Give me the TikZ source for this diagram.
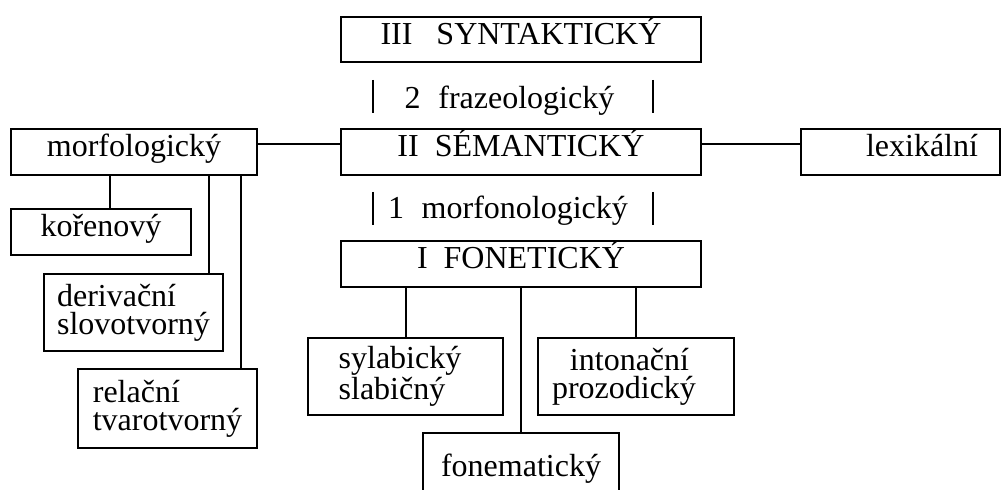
\documentclass[tikz,border=0pt]{standalone}
\usepackage{fontspec}
\setmainfont{Liberation Serif}
\begin{document}
\begin{tikzpicture}[x=0.5pt,y=-0.5pt,
  every node/.style={font=\fontsize{16pt}{14pt}\selectfont, inner sep=0pt},
  box/.style={draw, line width=1pt, rectangle},
  one/.style={box, text height=0.7em, text depth=0.2em},
  two/.style={box},
  link/.style={line width=1pt},
  bar/.style={line width=1.2pt},
  lbl/.style={text height=0.7em, text depth=0.2em}]
\clip (0,0) rectangle (1003,490);
% levels
\node[one, minimum width=180pt, minimum height=22.5pt] (syn) at (521,39.5) {III\hspace{0.75em}SYNTAKTICKÝ\hspace{8.5pt}};
\node[one, minimum width=180pt, minimum height=23pt] (sem) at (521,152) {II\hspace{0.5em}SÉMANTICKÝ\hspace{10pt}};
\node[one, minimum width=180pt, minimum height=23pt] (fon) at (521,264) {I\hspace{0.5em}FONETICKÝ\hspace{13.5pt}};
% in-between labels
\node[lbl] (fraz) at (509.5,104) {2\hspace{0.55em}frazeologický};
\node[lbl] (mfon) at (508,214) {1\hspace{0.55em}morfonologický};
\draw[bar] (373,80) -- (373,113);
\draw[bar] (653,80) -- (653,113);
\draw[bar] (373,192) -- (373,225);
\draw[bar] (653,192) -- (653,225);
% side boxes
\node[one, minimum width=123pt, minimum height=23pt] (morf) at (134,152) {morfologický\hspace{5pt}};
\node[one, minimum width=99.5pt, minimum height=23pt] (lex) at (900.5,152) {\hspace*{21.5pt}lexikální};
\node[one, minimum width=90pt, minimum height=23pt] (kor) at (101,232) {kořenový\hspace{3pt}};
\node[two, align=left, minimum width=89.5pt, minimum height=38.5pt] (der) at (133.5,312.5) {derivační\\slovotvorný};
\node[two, align=left, minimum width=89.5pt, minimum height=39.5pt] (rel) at (167.5,408.5) {relační\\tvarotvorný};
\node[two, align=left, minimum width=97.5pt, minimum height=38.5pt] (syl) at (405.5,376.5) {sylabický\hspace*{5.5pt}\\slabičný};
\node[two, align=center, minimum width=98pt, minimum height=38.5pt] (int) at (636,376.5) {intonační\hspace*{6.5pt}\\prozodický\hspace*{12pt}};
\node[one, minimum width=98pt, minimum height=39pt] (fonem) at (521,472) {fonematický};
% connector x positions
\coordinate (xk) at (110,0);
\coordinate (xd) at (209,0);
\coordinate (xr) at (241,0);
\coordinate (xs) at (406,0);
% connectors
\draw[link] ([yshift=4pt]morf.east) -- ([yshift=4pt]sem.west);
\draw[link] ([yshift=4pt]sem.east) -- ([yshift=4pt]lex.west);
\draw[link] (morf.south -| xk) -- (kor.north -| xk);
\draw[link] (morf.south -| xd) -- (der.north -| xd);
\draw[link] (morf.south -| xr) -- (rel.north -| xr);
\draw[link] (fon.south -| xs) -- (syl.north -| xs);
\draw[link] (fon.south -| int.north) -- (int.north);
\draw[link] (fon.south) -- (fonem.north);
\end{tikzpicture}
\end{document}
